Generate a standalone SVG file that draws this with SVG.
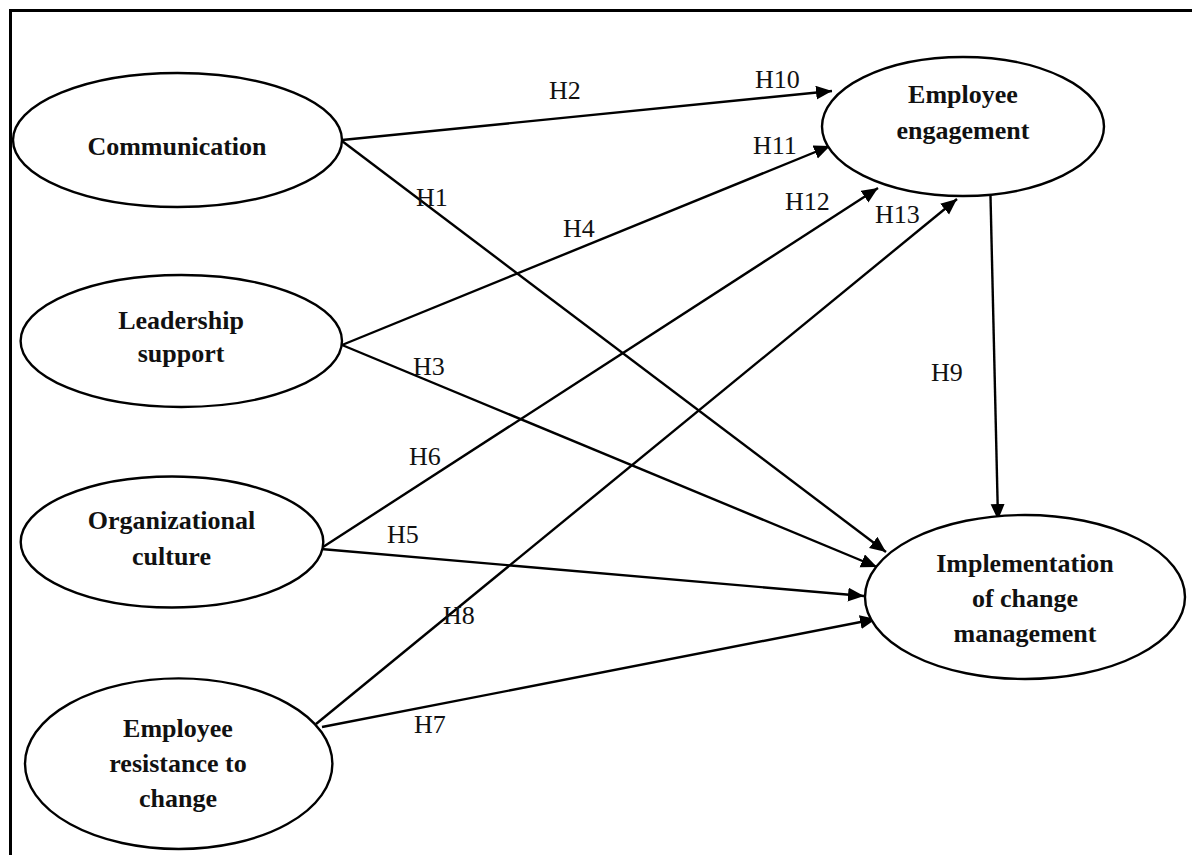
<svg xmlns="http://www.w3.org/2000/svg" width="1192" height="855" viewBox="0 0 1192 855">
<style>
.frame{fill:none;stroke:#000;stroke-width:3}
.node ellipse{fill:#fff;stroke:#000;stroke-width:2.4}
.node text{font-family:"Liberation Serif","Times New Roman",serif;font-size:26px;font-weight:bold;text-anchor:middle;fill:#111}
.edges line{stroke:#000;stroke-width:2.4;marker-end:url(#ah)}
.lbl{font-family:"Liberation Serif","Times New Roman",serif;font-size:26px;fill:#111}
</style>
<defs>
<marker id="ah" markerUnits="userSpaceOnUse" markerWidth="18" markerHeight="15" refX="16" refY="7" orient="auto">
<path d="M0,0 L16,7 L0,14 z" fill="#000"/>
</marker>
</defs>
<rect width="1192" height="855" fill="#fff"/>
<rect class="frame" x="10.5" y="10.5" width="1200" height="900"/>

<g id="edges" class="edges">
<line id="e-h2" x1="342" y1="140" x2="832" y2="91"/>
<line id="e-h1" x1="342" y1="141" x2="886" y2="552"/>
<line id="e-h4" x1="342" y1="345" x2="830" y2="146"/>
<line id="e-h3" x1="342" y1="345" x2="877" y2="567"/>
<line id="e-h6" x1="323" y1="547" x2="878" y2="188"/>
<line id="e-h5" x1="321" y1="549" x2="864" y2="596"/>
<line id="e-h8" x1="316" y1="724" x2="957" y2="199"/>
<line id="e-h7" x1="322" y1="727" x2="876" y2="619"/>
<line id="e-h9" x1="990.5" y1="196" x2="998" y2="520"/>
</g>

<g id="labels">
<text class="lbl" x="549" y="99">H2</text>
<text class="lbl" x="755" y="88">H10</text>
<text class="lbl" x="753" y="154">H11</text>
<text class="lbl" x="416" y="206">H1</text>
<text class="lbl" x="563" y="237">H4</text>
<text class="lbl" x="785" y="210">H12</text>
<text class="lbl" x="875" y="223">H13</text>
<text class="lbl" x="413" y="375">H3</text>
<text class="lbl" x="931" y="381">H9</text>
<text class="lbl" x="409" y="465">H6</text>
<text class="lbl" x="387" y="543">H5</text>
<text class="lbl" x="443" y="624">H8</text>
<text class="lbl" x="414" y="733">H7</text>
</g>

<g id="n-communication" class="node">
<ellipse cx="177.5" cy="140" rx="164.5" ry="67"/>
<text x="177" y="155">Communication</text>
</g>
<g id="n-leadership" class="node">
<ellipse cx="181.3" cy="341" rx="160.7" ry="66"/>
<text x="181" y="329">Leadership</text>
<text x="181" y="362">support</text>
</g>
<g id="n-culture" class="node">
<ellipse cx="172" cy="542" rx="151.3" ry="65.5"/>
<text x="171.5" y="529">Organizational</text>
<text x="171.5" y="565">culture</text>
</g>
<g id="n-resistance" class="node">
<ellipse cx="178.7" cy="763.7" rx="153.7" ry="85.3"/>
<text x="178" y="737">Employee</text>
<text x="178" y="772">resistance to</text>
<text x="178" y="807">change</text>
</g>
<g id="n-engagement" class="node">
<ellipse cx="963" cy="126.5" rx="141" ry="69.5"/>
<text x="963" y="103">Employee</text>
<text x="963" y="139">engagement</text>
</g>
<g id="n-implementation" class="node">
<ellipse cx="1025" cy="597" rx="160" ry="82"/>
<text x="1025" y="572">Implementation</text>
<text x="1025" y="607">of change</text>
<text x="1025" y="642">management</text>
</g>
</svg>
